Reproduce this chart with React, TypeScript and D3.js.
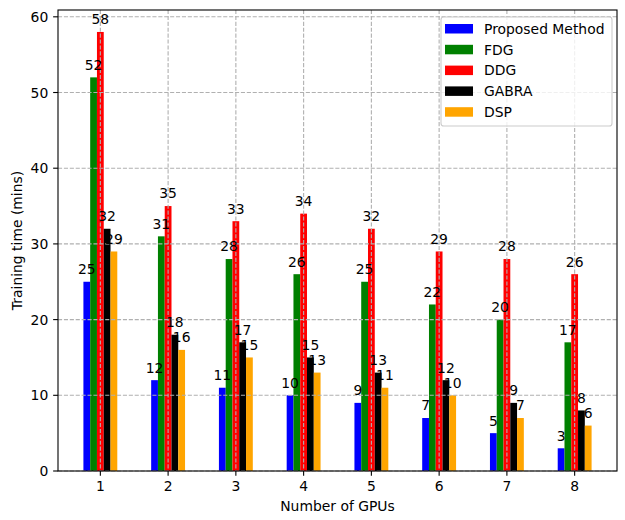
import * as d3 from 'd3';

const gpus = [1, 2, 3, 4, 5, 6, 7, 8];
const methods = ['Proposed Method', 'FDG', 'DDG', 'GABRA', 'DSP'];
const colors = ['#0000ff', '#008000', '#ff0000', '#000000', '#ffa500'];

const proposed = [25, 12, 11, 10, 9, 7, 5, 3];
const fdg = [52, 31, 28, 26, 25, 22, 20, 17];
const ddg = [58, 35, 33, 34, 32, 29, 28, 26];
const gabra = [32, 18, 17, 15, 13, 12, 9, 8];
const dsp = [29, 16, 15, 13, 11, 10, 7, 6];
const series = [proposed, fdg, ddg, gabra, dsp];

const yTicks = [0, 10, 20, 30, 40, 50, 60];

const W = 625;
const H = 520;
const left = 58;
const right = 617;
const top = 10;
const bottom = 471;
const barW = 0.1;
const font = 'DejaVu Sans, sans-serif';
const fs = 13.9;
const tickLen = 4.86;

export default function App() {
  // same margins matplotlib would pick (5% each side)
  const x = d3.scaleLinear().domain([0.375, 8.625]).range([left, right]);
  const y = d3.scaleLinear().domain([0, 60.9]).range([bottom, top]);
  const px = x(1 + barW) - x(1);

  const grid = { stroke: '#b0b0b0', strokeWidth: 1.1, strokeDasharray: '4.1,1.8' };

  return (
    <>
      <style>{'body{margin:0}'}</style>
      <svg width={W} height={H} style={{ display: 'block', background: '#fff' }} fontFamily={font}>
        {/* bars */}
        {series.map((vals, si) =>
          vals.map((v, i) => {
            const cx = gpus[i] + (si - 2) * barW;
            return (
              <rect
                key={`b${si}-${i}`}
                x={x(cx - barW / 2)}
                y={y(v)}
                width={px}
                height={y(0) - y(v)}
                fill={colors[si]}
              />
            );
          })
        )}

        {/* grid, drawn over the bars */}
        {gpus.map(g => (
          <line key={`gx${g}`} x1={x(g)} x2={x(g)} y1={top} y2={bottom} {...grid} />
        ))}
        {yTicks.map(t => (
          <line key={`gy${t}`} x1={left} x2={right} y1={y(t)} y2={y(t)} {...grid} />
        ))}

        {/* value labels */}
        {series.map((vals, si) =>
          vals.map((v, i) => {
            const cx = gpus[i] + (si - 2) * barW;
            return (
              <text key={`t${si}-${i}`} x={x(cx)} y={y(v + 1)} fontSize={fs} textAnchor="middle" fill="#000">
                {v}
              </text>
            );
          })
        )}

        {/* frame */}
        <rect x={left} y={top} width={right - left} height={bottom - top} fill="none" stroke="#000" strokeWidth={1.1} />

        {/* x axis */}
        {gpus.map(g => (
          <g key={`xt${g}`}>
            <line x1={x(g)} x2={x(g)} y1={bottom} y2={bottom + tickLen} stroke="#000" strokeWidth={1.1} />
            <text x={x(g)} y={491} fontSize={fs} textAnchor="middle">{g}</text>
          </g>
        ))}
        <text x={(left + right) / 2} y={511} fontSize={fs} textAnchor="middle">Number of GPUs</text>

        {/* y axis */}
        {yTicks.map(t => (
          <g key={`yt${t}`}>
            <line x1={left - tickLen} x2={left} y1={y(t)} y2={y(t)} stroke="#000" strokeWidth={1.1} />
            <text x={left - 9.7} y={y(t) + 5} fontSize={fs} textAnchor="end">{t}</text>
          </g>
        ))}
        <text
          transform={`translate(22,${(top + bottom) / 2}) rotate(-90)`}
          fontSize={fs}
          textAnchor="middle"
        >
          Training time (mins)
        </text>

        {/* legend */}
        <g>
          <rect x={441} y={17} width={171} height={109} rx={2.8} fill="#fff" fillOpacity={0.8} stroke="#cccccc" strokeWidth={1.1} />
          {methods.map((m, i) => (
            <g key={m} transform={`translate(0,${24 + i * 20.8})`}>
              <rect x={445} y={0} width={28} height={9.5} fill={colors[i]} />
              <text x={484} y={9.8} fontSize={fs}>{m}</text>
            </g>
          ))}
        </g>
      </svg>
    </>
  );
}
